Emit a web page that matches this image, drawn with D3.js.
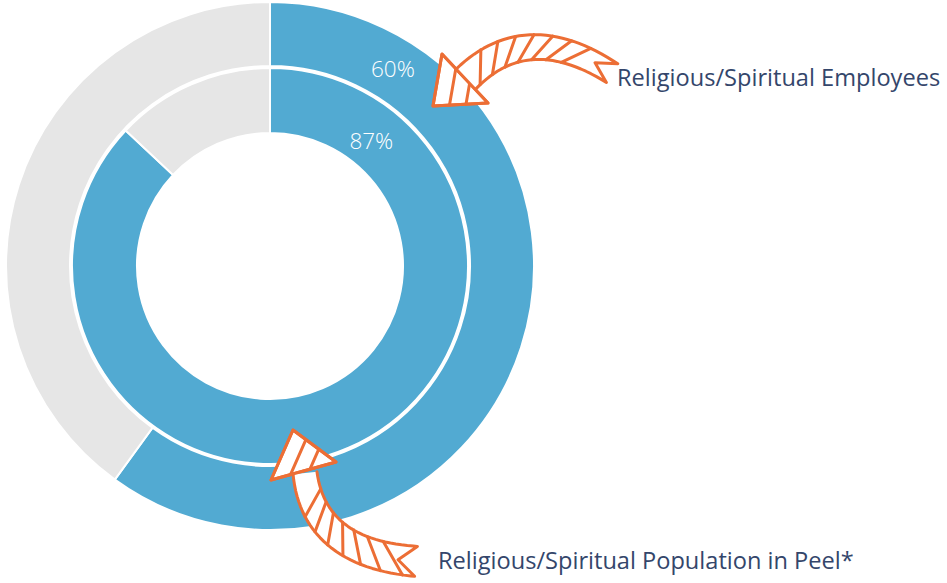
<!DOCTYPE html>
<html>
<head>
<meta charset="utf-8">
<script src="https://cdn.jsdelivr.net/npm/d3@7"></script>
<style>
  body { margin: 0; background: #fff; }
  text { font-family: "Open Sans", Roboto, sans-serif; }
</style>
</head>
<body>
<div class="chart"></div>
<script>
// Chart data
var ringNames = ["Religious/Spiritual Employees", "Religious/Spiritual Population in Peel*"];
var shareValues = [60, 87];
var restValues = [40, 13];
var shareLabels = ["60%", "87%"];

var svgWidth = 947;
var svgHeight = 583;
var cx = 270, cy = 266;

var blue = "#52aad2";
var grey = "#e6e6e6";
var orange = "#ec6e35";
var navy = "#34466b";

// ring radii (outer ring first)
var radii = [[200, 264], [133, 198]];
// where the % label sits: angle (deg from 12 o'clock) and radius
var labelAngles = [32, 39];
var labelRadii = [232, 161];

var svg = d3.select(".chart")
  .append("svg")
  .attr("width", svgWidth)
  .attr("height", svgHeight);

var chartGroup = svg.append("g")
  .attr("transform", `translate(${cx}, ${cy})`);

var pie = d3.pie().sort(null).value(d => d);

ringNames.forEach(function(name, i) {
  var arc = d3.arc()
    .innerRadius(radii[i][0])
    .outerRadius(radii[i][1]);

  chartGroup.append("g")
    .selectAll("path")
    .data(pie([shareValues[i], restValues[i]]))
    .enter()
    .append("path")
    .attr("d", arc)
    .attr("fill", (d, j) => j === 0 ? blue : grey)
    .attr("stroke", "#fff")
    .attr("stroke-width", 2);

  var a = labelAngles[i] * Math.PI / 180;
  var labelArc = d3.arc().innerRadius(labelRadii[i]).outerRadius(labelRadii[i]);
  var pos = labelArc.centroid({startAngle: 0, endAngle: 2 * a});
  chartGroup.append("text")
    .attr("x", pos[0])
    .attr("y", pos[1])
    .attr("dy", "0.36em")
    .attr("text-anchor", "middle")
    .attr("fill", "#fff")
    .attr("font-size", 22.5)
    .attr("font-weight", 300)
    .text(shareLabels[i]);
});

// ring names
svg.append("text")
  .attr("x", 617).attr("y", 86)
  .attr("fill", navy)
  .attr("font-size", 23.6)
  .text(ringNames[0]);

svg.append("text")
  .attr("x", 438).attr("y", 569)
  .attr("fill", navy)
  .attr("font-size", 23.6)
  .text(ringNames[1]);

// Hand drawn hatched arrows
function bez(s, t) {
  var u = 1 - t;
  return [u * u * s.p0[0] + 2 * u * t * s.p1[0] + t * t * s.p2[0],
          u * u * s.p0[1] + 2 * u * t * s.p1[1] + t * t * s.p2[1]];
}
function bezD(s, t) {
  var dx = 2 * (1 - t) * (s.p1[0] - s.p0[0]) + 2 * t * (s.p2[0] - s.p1[0]);
  var dy = 2 * (1 - t) * (s.p1[1] - s.p0[1]) + 2 * t * (s.p2[1] - s.p1[1]);
  var l = Math.hypot(dx, dy);
  return [dx / l, dy / l];
}
function edge(s, t, side) {
  var p = bez(s, t), d = bezD(s, t);
  var w = (s.w0 + (s.w1 - s.w0) * t) / 2 * side;
  return [p[0] - d[1] * w, p[1] + d[0] * w];
}

function drawArrow(s) {
  var g = svg.append("g")
    .attr("fill", "none")
    .attr("stroke", orange)
    .attr("stroke-width", 3)
    .attr("stroke-linejoin", "round")
    .attr("stroke-linecap", "round");
  var line = d3.line();

  // head
  var h = s.head;
  g.append("path").attr("d", line([h.a, h.t, h.b]) + "Z").attr("fill", "#fff");
  [0.3, 0.6].forEach(function(f) {
    var p = [h.a[0] + (h.b[0] - h.a[0]) * f, h.a[1] + (h.b[1] - h.a[1]) * f];
    var q = [h.t[0] + (h.b[0] - h.t[0]) * f, h.t[1] + (h.b[1] - h.t[1]) * f];
    g.append("path").attr("d", line([p, q]));
  });

  // shaft
  var ts = d3.range(0, 1.0001, 1 / 30);
  var e1 = ts.map(t => edge(s, t, 1));
  var e2 = ts.map(t => edge(s, t, -1));
  var end = bez(s, 1), d = bezD(s, 1);
  var tail1 = [e1[e1.length - 1][0] + d[0] * s.ext, e1[e1.length - 1][1] + d[1] * s.ext];
  var tail2 = [e2[e2.length - 1][0] + d[0] * s.ext, e2[e2.length - 1][1] + d[1] * s.ext];
  var notch = [end[0] - d[0] * s.notch, end[1] - d[1] * s.notch];
  var outline = e1.concat([tail1, notch, tail2], e2.slice().reverse());
  g.append("path").attr("d", line(outline) + "Z").attr("fill", "#fff").attr("stroke", "none");

  for (var i = 0; i < s.hatch; i++) {
    var ta = 0.04 + i * (0.92 / (s.hatch - 1));
    var tb = ta + s.skew;
    if (tb > 0.97 || tb < 0.02) continue;
    g.append("path").attr("d", line([edge(s, ta, 1), edge(s, tb, -1)]));
  }
  g.append("path").attr("d", line(outline));
  g.append("path").attr("d", line([h.a, h.t, h.b]) + "Z");
}

drawArrow({
  p0: [466, 79], p1: [525, 20], p2: [607, 70],
  w0: 28, w1: 22, ext: 6, notch: 14, hatch: 9, skew: 0.14,
  head: {a: [442, 54], t: [433, 106], b: [488, 103]}
});

drawArrow({
  p0: [305, 473], p1: [314, 552], p2: [412, 561],
  w0: 24, w1: 30, ext: 4, notch: 14, hatch: 9, skew: -0.14,
  head: {a: [271, 480], t: [293, 430], b: [336, 462]}
});
</script>
</body>
</html>
